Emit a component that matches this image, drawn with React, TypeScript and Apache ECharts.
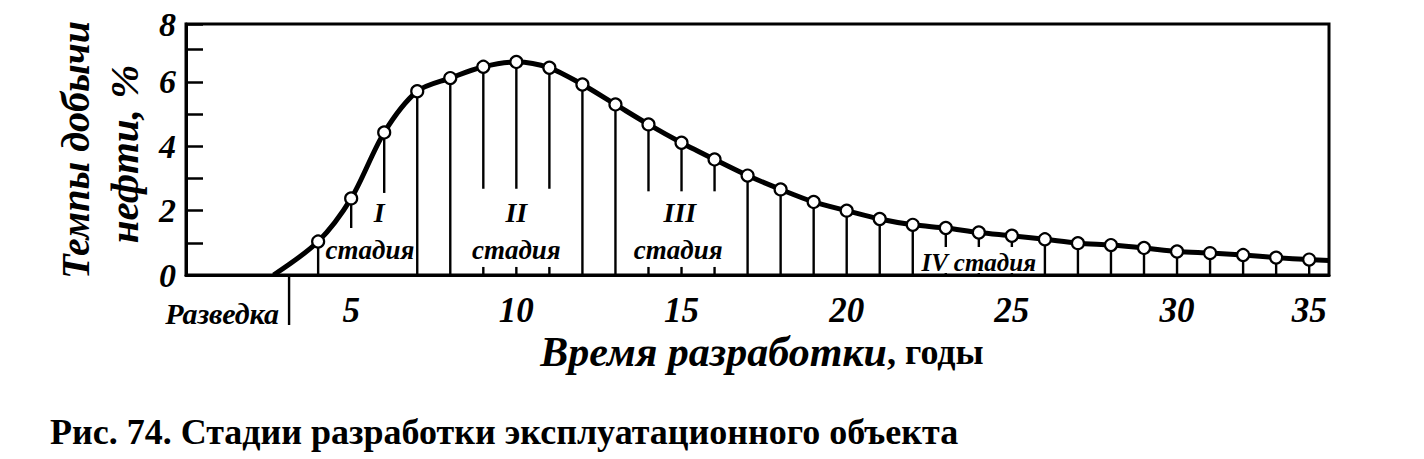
import React, { useEffect, useRef } from 'react';
import * as echarts from 'echarts';

const years = [4, 5, 6, 7, 8, 9, 10, 11, 12, 13, 14, 15, 16, 17, 18, 19, 20, 21, 22, 23, 24, 25, 26, 27, 28, 29, 30, 31, 32, 33, 34];
const rates = [1.04, 2.38, 4.43, 5.71, 6.12, 6.47, 6.62, 6.44, 5.92, 5.30, 4.68, 4.11, 3.59, 3.09, 2.66, 2.27, 2.00, 1.74, 1.56, 1.46, 1.32, 1.22, 1.11, 0.99, 0.93, 0.84, 0.73, 0.68, 0.62, 0.54, 0.48];
const curveStart = [2.65, 0];
const curveEnd = [34.6, 0.45];
const shortDropYears = [5, 6, 9, 10, 11, 14, 15, 16];
const shortDropEnds = [1.46, 2.55, 2.68, 2.68, 2.68, 2.6, 2.6, 2.6];
const axisTickYears = [9, 10, 11, 14, 15, 16];
const xTickLabels: Record<number, string> = { 5: '5', 10: '10', 15: '15', 20: '20', 25: '25', 30: '30', 34: '35' };
const yTickLabels: Record<number, string> = { 0: '0', 2: '2', 4: '4', 6: '6', 7.8: '8' };
const stageNumerals = ['I', 'II', 'III'];
const stageNumeralX = [5.85, 10.0, 14.95];
const stageWordX = [5.57, 10.0, 14.9];
const stageNumeralY = 1.93;
const stageWordY = 0.78;
const stageWord = 'стадия';
const stage4Label = 'IV стадия';
const stage4Span = [22, 26];
const stage4Top = 0.87;
const explorationYear = 3.12;
const explorationLabel = 'Разведка';
const yName1 = 'Темпы добычи';
const yName2 = 'нефти, %';
const xNameItalic = 'Время разработки';
const xNamePlain = ', годы';
const caption = 'Рис. 74. Стадии разработки эксплуатационного объекта';

const SERIF = '"Liberation Serif", "DejaVu Serif", serif';

export default function App() {
  const ref = useRef<HTMLDivElement>(null);
  useEffect(() => {
    if (!ref.current) return;
    const chart = echarts.init(ref.current, undefined, { renderer: 'svg' });
    const lineData: any[] = [
      { value: curveStart, symbol: 'none' },
      ...years.map((y, i) => [y, rates[i]]),
      { value: curveEnd, symbol: 'none' },
    ];
    const dropData = years.map((y, i) => {
      const k = shortDropYears.indexOf(y);
      return [y, rates[i], k >= 0 ? shortDropEnds[k] : 0];
    });
    chart.setOption({
      animation: false,
      backgroundColor: '#fff',
      grid: { left: 186, top: 24, width: 1143, height: 251, show: true, borderColor: '#000', borderWidth: 3, backgroundColor: 'transparent' },
      xAxis: {
        type: 'value', min: 0, max: 34.6, interval: 1,
        axisLine: { show: true, lineStyle: { color: '#000', width: 3 } },
        axisTick: { show: false },
        splitLine: { show: false },
        axisLabel: {
          showMinLabel: false, showMaxLabel: false,
          formatter: (v: number) => xTickLabels[v] ?? '',
          color: '#000', fontFamily: SERIF, fontWeight: 'bold', fontStyle: 'italic', fontSize: 35, margin: 18,
        },
      },
      yAxis: {
        type: 'value', min: 0, max: 7.8, interval: 1,
        axisLine: { show: true, lineStyle: { color: '#000', width: 3 } },
        axisTick: { show: true, inside: true, length: 17, lineStyle: { color: '#000', width: 2.5 } },
        splitLine: { show: false },
        axisLabel: {
          showMaxLabel: true,
          formatter: (v: number) => yTickLabels[Math.round(v * 10) / 10] ?? '',
          color: '#000', fontFamily: SERIF, fontWeight: 'bold', fontStyle: 'italic', fontSize: 34, margin: 10,
          padding: [8, 0, 0, 0],
        },
      },
      series: [
        {
          type: 'custom', z: 1, clip: false,
          data: dropData,
          encode: { x: 0, y: 1 },
          renderItem: (params: any, api: any) => {
            const x = api.value(0), v = api.value(1), e = api.value(2);
            const p1 = api.coord([x, v]);
            const p2 = api.coord([x, e]);
            const children: any[] = [
              { type: 'line', shape: { x1: p1[0], y1: p1[1], x2: p2[0], y2: p2[1] }, style: { stroke: '#000', lineWidth: 2.4 } },
            ];
            if (axisTickYears.indexOf(x) >= 0) {
              const a = api.coord([x, 0]);
              const b = api.coord([x, 0.25]);
              children.push({ type: 'line', shape: { x1: a[0], y1: a[1], x2: b[0], y2: b[1] }, style: { stroke: '#000', lineWidth: 2.4 } });
            }
            return { type: 'group', children };
          },
        },
        {
          type: 'custom', z: 3, clip: false,
          data: [[stage4Span[0], stage4Span[1], stage4Top]],
          encode: { x: 0, y: 2 },
          renderItem: (params: any, api: any) => {
            const a = api.coord([api.value(0), api.value(2)]);
            const b = api.coord([api.value(1), 0]);
            const children: any[] = [
              { type: 'rect', shape: { x: a[0] + 2, y: a[1], width: b[0] - a[0] - 4, height: b[1] - a[1] - 2, r: [6, 6, 0, 0] }, style: { fill: '#fff' } },
              { type: 'text', style: { text: stage4Label, x: (a[0] + b[0]) / 2, y: (a[1] + b[1]) / 2 + 1, align: 'center', verticalAlign: 'middle', fill: '#000', font: `italic bold 25px ${SERIF}` } },
            ];
            stageNumerals.forEach((n, i) => {
              const p = api.coord([stageNumeralX[i], stageNumeralY]);
              children.push({ type: 'text', style: { text: n, x: p[0], y: p[1], align: 'center', verticalAlign: 'middle', fill: '#000', font: `italic bold 28px ${SERIF}` } });
              const q = api.coord([stageWordX[i], stageWordY]);
              children.push({ type: 'text', style: { text: stageWord, x: q[0], y: q[1], align: 'center', verticalAlign: 'middle', fill: '#000', font: `italic bold 27px ${SERIF}` } });
            });
            return { type: 'group', children };
          },
        },
        {
          type: 'line', z: 5,
          data: lineData,
          smooth: 0.3,
          showAllSymbol: true,
          symbol: 'circle', symbolSize: 12,
          lineStyle: { color: '#000', width: 5 },
          itemStyle: { color: '#fff', borderColor: '#000', borderWidth: 2.2 },
        },
      ],
    });
    const ex = chart.convertToPixel({ xAxisIndex: 0 }, explorationYear) as number;
    const y0 = chart.convertToPixel({ yAxisIndex: 0 }, 0) as number;
    chart.setOption({
      graphic: [
        { type: 'line', shape: { x1: ex, y1: y0, x2: ex, y2: y0 + 50 }, style: { stroke: '#000', lineWidth: 2.4 } },
        { type: 'text', x: ex - 10, y: y0 + 38, style: { text: explorationLabel, align: 'right', verticalAlign: 'middle', fill: '#000', font: `italic bold 30px ${SERIF}` } },
        { type: 'text', x: 75, y: 150, rotation: Math.PI / 2, style: { text: yName1, align: 'center', verticalAlign: 'middle', fill: '#000', font: `italic bold 40px ${SERIF}` } },
        { type: 'text', x: 124, y: 154, rotation: Math.PI / 2, style: { text: yName2, align: 'center', verticalAlign: 'middle', fill: '#000', font: `italic bold 41px ${SERIF}` } },
        {
          type: 'text', x: 762, y: 352,
          style: {
            text: `{a|${xNameItalic}}{b|${xNamePlain}}`, align: 'center', verticalAlign: 'middle', fill: '#000',
            rich: {
              a: { fontFamily: SERIF, fontStyle: 'italic', fontWeight: 'bold', fontSize: 42, fill: '#000' },
              b: { fontFamily: SERIF, fontWeight: 'bold', fontSize: 36, fill: '#000' },
            },
          },
        },
        { type: 'text', x: 50, y: 432, style: { text: caption, align: 'left', verticalAlign: 'middle', fill: '#000', font: `bold 36px ${SERIF}` } },
      ],
    });
    return () => chart.dispose();
  }, []);
  return <div ref={ref} style={{ position: 'fixed', left: 0, top: 0, width: 1424, height: 459 }} />;
}
